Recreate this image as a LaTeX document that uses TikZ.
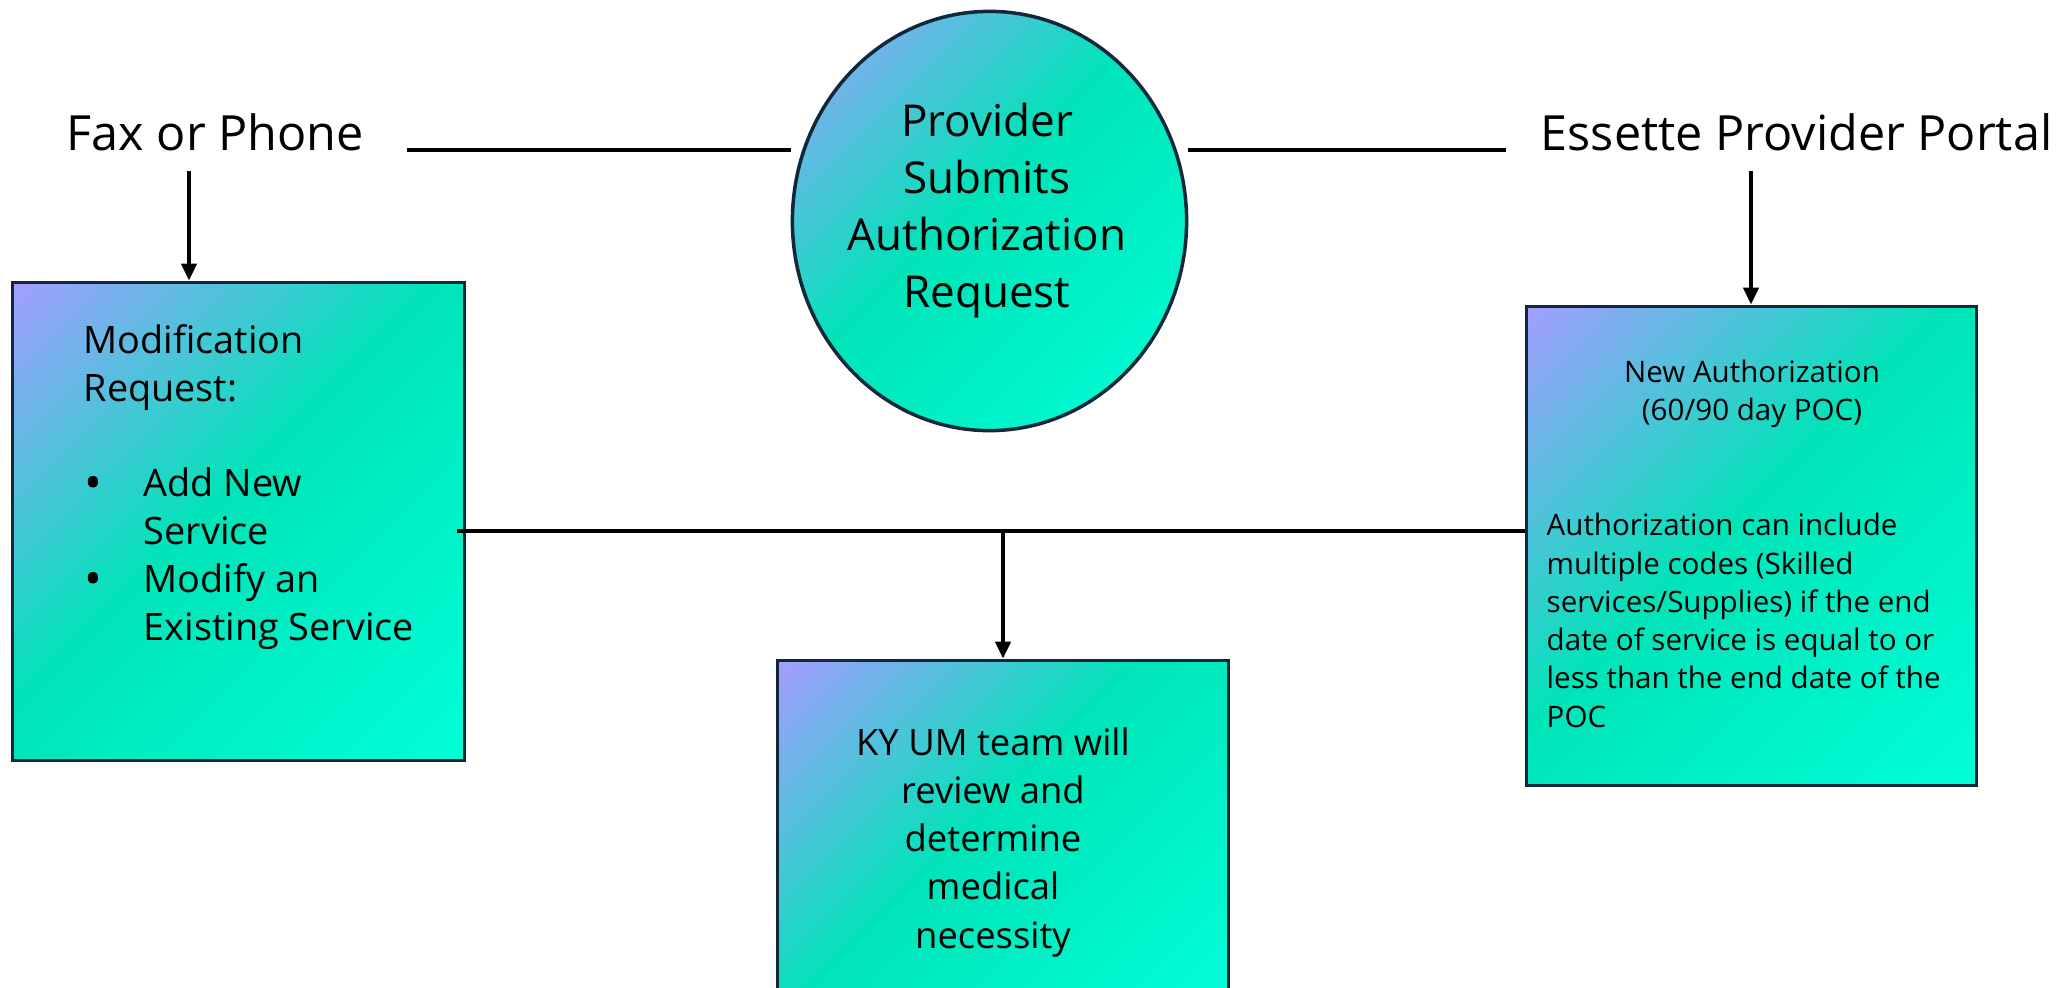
\documentclass[tikz,border=0pt]{standalone}
\usepackage{fontspec}
\setmainfont{Open Sans}
\usetikzlibrary{arrows.meta,shapes.geometric,calc}
\definecolor{lav}{RGB}{162,158,255}
\definecolor{mint}{RGB}{0,228,184}
\definecolor{aqua}{RGB}{0,255,216}
\definecolor{edge}{RGB}{16,40,58}
\pgfdeclarehorizontalshading{grad}{100bp}{color(0bp)=(lav); color(15bp)=(lav); color(47bp)=(mint); color(85bp)=(aqua); color(100bp)=(aqua)}
\newcommand{\bul}{\makebox[0.6cm][l]{\hspace*{0.01cm}\raisebox{-0.15ex}{\fontsize{13.5pt}{13.5pt}\selectfont •}}}
\begin{document}
\begin{tikzpicture}[x=0.01cm,y=-0.01cm,
  gbox/.style={draw=edge, line width=0.035cm, shading=grad, shading angle=-45, inner sep=0pt},
  txt/.style={inner sep=0pt, text=black},
  conn/.style={line width=0.04cm, draw=black},
  arr/.style={conn, -{Triangle[length=0.17cm,width=0.15cm]}}
]
\useasboundingbox (0,0) rectangle (2061,987);
\clip (0,0) rectangle (2061,987);

% shapes
\node[gbox, minimum width=4.52cm, minimum height=4.78cm] (modbox) at (238.5,521.5) {};
\node[gbox, minimum width=4.50cm, minimum height=4.79cm] (newbox) at (1751.5,546) {};
\node[gbox, minimum width=4.51cm, minimum height=3.38cm] (kybox) at (1003,829.5) {};
\node[gbox, ellipse, minimum width=3.94cm, minimum height=4.19cm] (circ) at (989.5,221) {};

% labels
\node[txt, anchor=base west, font=\fontsize{13.8pt}{16pt}\selectfont] (fax) at (66,150) {Fax or Phone};
\node[txt, anchor=base west, font=\fontsize{13.8pt}{16pt}\selectfont] (portal) at (1540,150) {Essette Provider Portal};

\node[txt, anchor=base, align=center, font=\fontsize{12.5pt}{16.2pt}\selectfont] (ctext) at (987,307) {Provider\\Submits\\Authorization\\Request};

\node[txt, anchor=base west, align=left, font=\fontsize{10.75pt}{13.57pt}\selectfont] (modtext) at (83,640)
  {Modification\\Request:\\[13.57pt]\bul Add New\\\hspace*{0.6cm}Service\\\bul Modify an\\\hspace*{0.6cm}Existing Service};

\node[txt, anchor=base, align=center, font=\fontsize{8.4pt}{10.8pt}\selectfont] (newhead) at (1752,420) {New Authorization\\(60/90 day POC)};
\node[txt, anchor=base west, align=left, font=\fontsize{8.4pt}{10.87pt}\selectfont] (newbody) at (1546,727)
  {Authorization can include\\multiple codes (Skilled\\services/Supplies) if the end\\date of service is equal to or\\less than the end date of the\\POC};

\node[txt, anchor=base, align=center, font=\fontsize{10.35pt}{13.66pt}\selectfont] (kytext) at (993,948) {KY UM team will\\review and\\determine\\medical\\necessity};

% connectors
\coordinate (fl) at (407,150);
\coordinate (fr) at (1506,150);
\draw[conn] (fl) -- (fl -| circ.west);
\draw[conn] (circ.east |- fr) -- (fr);
\coordinate (fa) at (189,171);
\draw[arr] (fa) -- (fa |- modbox.north);
\coordinate (pa) at (1751,171);
\draw[arr] (pa) -- (pa |- newbox.north);
\coordinate (hl) at (457,531);
\draw[conn] (hl) -- (hl -| newbox.west);
\draw[arr] (kybox.north |- hl) -- (kybox.north);
\end{tikzpicture}
\end{document}
